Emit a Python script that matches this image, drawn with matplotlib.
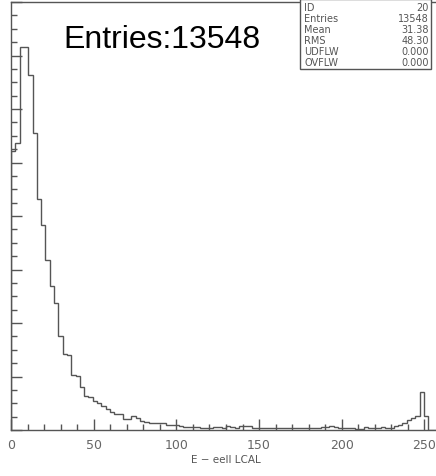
import numpy as np
import matplotlib.pyplot as plt
from matplotlib.ticker import MultipleLocator

# histogram 20 : E - eell LCAL, 100 bins from 0 to 260
lo, hi, nbins = 0.0, 260.0, 100
counts = [
    1044, 1074, 1432, 1430, 1328, 1112, 865, 768, 634, 537,
    474, 351, 284, 282, 205, 203, 160, 127, 125, 108,
    100, 90, 78, 67, 60, 58, 41, 42, 52, 45,
    34, 30, 26, 26, 26, 25, 19, 17, 17, 16,
    13, 12, 10, 10, 9, 9, 8, 11, 10, 7,
    14, 13, 8, 16, 15, 16, 8, 7, 8, 7,
    7, 6, 8, 7, 6, 7, 8, 6, 7, 8,
    9, 8, 10, 10, 14, 13, 8, 7, 7, 8,
    5, 4, 10, 9, 8, 9, 10, 9, 9, 15,
    19, 26, 37, 45, 52, 142, 52, 0, 0, 0,
]
stats_names = ["ID", "Entries", "Mean", "RMS", "UDFLW", "OVFLW"]
stats_values = ["20", "13548", "31.38", "48.30", "0.000", "0.000"]
xlabel = "E \u2212 eell LCAL"

edges = np.linspace(lo, hi, nbins + 1)

fig = plt.figure(figsize=(4.36, 4.77), dpi=100)
ax = fig.add_axes([11 / 436, 46 / 477, 430 / 436, 428 / 477])

ax.stairs(counts, edges, color="#555555", linewidth=1.0)
ax.set_xlim(lo, hi)
ax.set_ylim(0, 1600)

for s in ax.spines.values():
    s.set_color("#555555")
    s.set_linewidth(1.0)

ax.xaxis.set_major_locator(MultipleLocator(50))
ax.xaxis.set_minor_locator(MultipleLocator(10))
ax.yaxis.set_major_locator(MultipleLocator(200))
ax.yaxis.set_minor_locator(MultipleLocator(50))
ax.tick_params(which="both", direction="in", color="#555555", width=1.0)
ax.tick_params(which="major", length=8)
ax.tick_params(which="minor", length=4)
ax.tick_params(axis="x", labelsize=9, labelcolor="#666666", pad=6)
ax.tick_params(axis="y", labelleft=False)
ax.set_xlabel(xlabel, fontsize=7.5, color="#555555", labelpad=2)

# stats box in the upper right corner
box_l, box_r = 300, 431
box_t, box_b = 0, 70
fig.patches.append(plt.Rectangle((box_l / 436, 1 - box_b / 477),
                                 (box_r - box_l) / 436, (box_b - box_t) / 477,
                                 transform=fig.transFigure, facecolor="white",
                                 edgecolor="#555555", linewidth=1.0, zorder=5))
for i, (n, v) in enumerate(zip(stats_names, stats_values)):
    y = 1 - (8 + i * 11) / 477
    fig.text(304 / 436, y, n, fontsize=7, color="#555555", va="center", zorder=6)
    fig.text(429 / 436, y, v, fontsize=7, color="#555555", va="center",
             ha="right", zorder=6)

fig.text(63 / 436, 1 - 40 / 477, "Entries:" + stats_values[1],
         fontsize=23, family="Liberation Sans", va="center", color="black")

fig.savefig("out.png", dpi=100)
